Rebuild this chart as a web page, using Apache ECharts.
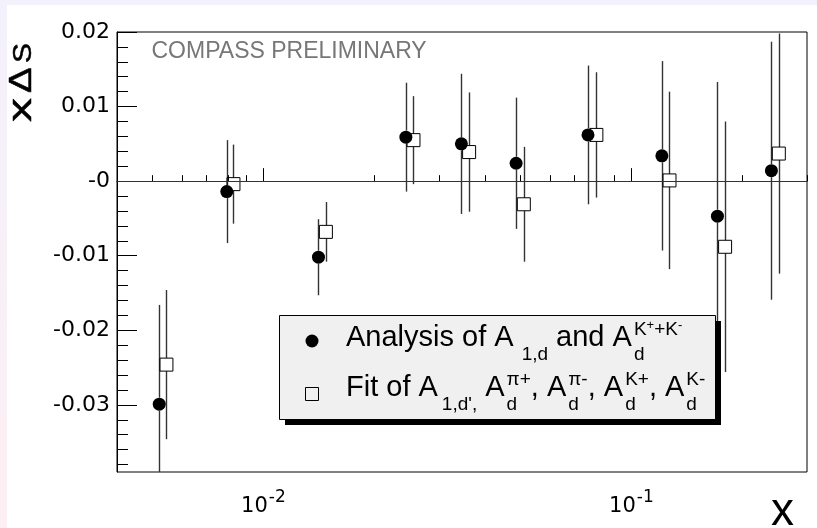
<!DOCTYPE html>
<html><head><meta charset="utf-8">
<script src="https://cdn.jsdelivr.net/npm/echarts@6/dist/echarts.min.js"></script>
<style>html,body{margin:0;padding:0;background:#fff;}#c{width:817px;height:528px;}</style>
</head><body><div id="c"></div>
<script>
// ---- data ----
const xCircle = [0.00521, 0.00795, 0.01411, 0.02438, 0.03451, 0.0486, 0.0762, 0.1210, 0.1713, 0.2401];
const yCircle = [-0.0299, -0.0014, -0.0102, 0.0059, 0.0050, 0.0024, 0.0062, 0.0034, -0.0047, 0.0014];
const eCircle = [0.0133, 0.0069, 0.0051, 0.0073, 0.0094, 0.0088, 0.0093, 0.0127, 0.0180, 0.0173];

const xSquare = [0.00545, 0.00829, 0.01478, 0.02557, 0.03622, 0.0510, 0.0803, 0.1269, 0.1797, 0.2515];
const ySquare = [-0.0246, -0.0004, -0.0068, 0.0055, 0.0039, -0.0031, 0.0062, 0.0001, -0.0088, 0.0037];
const eSquare = [0.0100, 0.0053, 0.0040, 0.0059, 0.0080, 0.0077, 0.0084, 0.0119, 0.0168, 0.0161];

const yMajorTicks = [-0.03, -0.02, -0.01, 0, 0.01, 0.02];
const yMajorLabels = ['-0.03', '-0.02', '-0.01', '-0', '0.01', '0.02'];
const yMinorTicks = [-0.038, -0.036, -0.034, -0.032, -0.028, -0.026, -0.024, -0.022,
  -0.018, -0.016, -0.014, -0.012, -0.008, -0.006, -0.004, -0.002,
  0.002, 0.004, 0.006, 0.008, 0.012, 0.014, 0.016, 0.018];
const xMajorTicks = [0.01, 0.1];
const xMajorExp = ['-2', '-1'];
const xMinorTicks = [0.005, 0.006, 0.007, 0.008, 0.009, 0.02, 0.03, 0.04, 0.05, 0.06, 0.07, 0.08, 0.09, 0.2, 0.3];

const FONT = '"Liberation Sans", Arial, Helvetica, sans-serif';
const WIDE = '"DejaVu Sans", "Liberation Sans", sans-serif';
const chart = echarts.init(document.getElementById('c'), null, {renderer: 'canvas'});

function errRender(halfGap) {
  return function (params, api) {
    const x = api.value(0), y = api.value(1), e = api.value(2);
    const c = api.coord([x, y]);
    const top = api.coord([x, y + e]);
    const bot = api.coord([x, y - e]);
    const cs = params.coordSys;
    const t = Math.max(top[1], cs.y), b = Math.min(bot[1], cs.y + cs.height);
    const px = Math.round(c[0]) + 0.5;
    const st = {stroke: '#333', lineWidth: 1.4};
    const ch = [];
    if (c[1] - halfGap > t) ch.push({type: 'line', shape: {x1: px, y1: t, x2: px, y2: c[1] - halfGap}, style: st});
    if (c[1] + halfGap < b) ch.push({type: 'line', shape: {x1: px, y1: c[1] + halfGap, x2: px, y2: b}, style: st});
    return {type: 'group', children: ch};
  };
}

// ---- legend layout helpers ----
const mctx = document.createElement('canvas').getContext('2d');
function tw(t, s) { mctx.font = s + 'px ' + FONT; return mctx.measureText(t).width; }
function txt(x, base, t, s, color) {
  return {type: 'text', x: x, y: base - 0.3465 * s, z: 120, silent: true,
    style: {text: t, font: s + 'px ' + FONT, fill: color || '#000', textAlign: 'left', textVerticalAlign: 'middle'}};
}
function layoutRow(items, x0, base) {
  const els = []; let x = x0;
  items.forEach(function (it) {
    if (it.gap) { x += it.gap; return; }
    if (it.stack) {
      let sx = x;
      it.sup.forEach(function (p) { els.push(txt(sx, base + p[2], p[0], p[1])); sx += tw(p[0], p[1]); });
      els.push(txt(x, base + it.sub[2], it.sub[0], it.sub[1]));
      x = Math.max(sx, x + tw(it.sub[0], it.sub[1]));
      return;
    }
    els.push(txt(x, base + (it.dy || 0), it.t, it.s));
    x += tw(it.t, it.s);
  });
  return els;
}
function stk(sup) { return {stack: true, sup: [[sup, 19, -12]], sub: ['d', 19, 13]}; }
const row1 = [{t: 'Analysis of A', s: 29}, {gap: 8}, {t: '1,d', s: 19, dy: 13}, {t: ' and A', s: 29}, {gap: 2},
  {stack: true, sup: [['K', 19, -12], ['+', 13, -18], ['+K', 19, -12], ['-', 13, -18]], sub: ['d', 19, 13]}];
const row2 = [{t: 'Fit of A', s: 29}, {gap: 4}, {t: "1,d',", s: 19, dy: 13}, {t: ' A', s: 29}, {gap: 2}, stk('\u03c0+'),
  {t: ', A', s: 29}, {gap: 2}, stk('\u03c0-'), {t: ', A', s: 29}, {gap: 2}, stk('K+'), {t: ', A', s: 29}, {gap: 2}, stk('K-')];

function rotLetter(t, s, sx, y0) {
  return {type: 'text', z: 50, silent: true, x: 33 - 0.3465 * s, y: y0, rotation: Math.PI / 2, scaleX: sx,
    style: {text: t, font: s + 'px ' + FONT, fill: '#000', stroke: '#000', lineWidth: 0.5,
      textAlign: 'left', textVerticalAlign: 'middle'}};
}

const graphics = [
  {type: 'rect', z: -10, silent: true, shape: {x: 0, y: 0, width: 817, height: 5}, style: {fill: '#f3f1fc'}},
  {type: 'rect', z: -10, silent: true, shape: {x: 0, y: 0, width: 7, height: 528},
    style: {fill: new echarts.graphic.LinearGradient(0, 0, 0, 1, [{offset: 0, color: '#f3f1fc'}, {offset: 1, color: '#fdeff3'}])}},
  {type: 'rect', z: 110, silent: true, shape: {x: 285, y: 321, width: 436, height: 104}, style: {fill: '#000'}},
  {type: 'rect', z: 111, silent: true, shape: {x: 279.5, y: 315.5, width: 436, height: 104}, style: {fill: '#f0f0f0', stroke: '#000', lineWidth: 1}},
  {type: 'circle', z: 120, silent: true, shape: {cx: 312, cy: 341, r: 6.5}, style: {fill: '#000'}},
  {type: 'rect', z: 120, silent: true, shape: {x: 305.5, y: 387.5, width: 13, height: 13}, style: {fill: 'none', stroke: '#000', lineWidth: 1}},
  {type: 'text', z: 50, silent: true, x: 151.5, y: 52,
    style: {text: 'COMPASS PRELIMINARY', font: '23px ' + FONT, fill: '#777', textAlign: 'left', textVerticalAlign: 'middle'}},
  {type: 'text', z: 50, silent: true, x: 782.5, y: 512,
    style: {text: 'x', font: '46px ' + FONT, fill: '#000', textAlign: 'center', textVerticalAlign: 'middle'}},
  rotLetter('x', 33, 1.45, 122),
  rotLetter('\u0394', 32, 1.2, 93),
  rotLetter('S', 26, 1.15, 63)
].concat(layoutRow(row1, 346, 348)).concat(layoutRow(row2, 346, 398));

const option = {
  animation: false,
  backgroundColor: '#fff',
  grid: {left: 117, right: 10, top: 32, bottom: 56, show: true, borderColor: '#000', borderWidth: 1,
    backgroundColor: 'transparent', containLabel: false, outerBoundsMode: 'none'},
  xAxis: [
    {type: 'log', logBase: 10, min: 0.004, max: 0.3, position: 'bottom',
      axisLine: {show: true, lineStyle: {color: '#000', width: 1}},
      axisTick: {show: true, inside: true, length: 13, customValues: xMajorTicks, lineStyle: {color: '#000'}},
      axisLabel: {show: true, customValues: xMajorTicks, margin: 24,
        formatter: function (v) {
          const i = xMajorTicks.findIndex(function (t) { return Math.abs(t - v) / t < 1e-6; });
          return i >= 0 ? '{b|10}{s|' + xMajorExp[i] + '}' : '';
        },
        rich: {
          b: {fontSize: 21, fontFamily: WIDE, color: '#000', lineHeight: 21},
          s: {fontSize: 17, fontFamily: WIDE, color: '#000', lineHeight: 17, padding: [0, 0, 17, 1]}
        }},
      splitLine: {show: false}, minorTick: {show: false}},
    {type: 'log', logBase: 10, min: 0.004, max: 0.3, position: 'bottom',
      axisLine: {show: false},
      axisTick: {show: true, inside: true, length: 6, customValues: xMinorTicks, lineStyle: {color: '#000'}},
      axisLabel: {show: false}, splitLine: {show: false}}
  ],
  yAxis: [
    {type: 'value', min: -0.039, max: 0.02, position: 'left',
      axisLine: {show: true, lineStyle: {color: '#000', width: 1}},
      axisTick: {show: true, inside: true, length: 20, customValues: yMajorTicks, lineStyle: {color: '#000'}},
      axisLabel: {show: true, customValues: yMajorTicks, margin: 7, fontSize: 22, fontFamily: WIDE, color: '#000',
        formatter: function (v) {
          const i = yMajorTicks.findIndex(function (t) { return Math.abs(t - v) < 1e-9; });
          return i >= 0 ? yMajorLabels[i] : '';
        }},
      splitLine: {show: false}},
    {type: 'value', min: -0.039, max: 0.02, position: 'left',
      axisLine: {show: false},
      axisTick: {show: true, inside: true, length: 11, customValues: yMinorTicks, lineStyle: {color: '#000'}},
      axisLabel: {show: false}, splitLine: {show: false}}
  ],
  series: [
    {type: 'custom', name: 'errC', xAxisIndex: 0, yAxisIndex: 0, renderItem: errRender(6.5), z: 3,
      encode: {x: 0, y: 1}, data: xCircle.map(function (x, i) { return [x, yCircle[i], eCircle[i]]; }), silent: true},
    {type: 'custom', name: 'errS', xAxisIndex: 0, yAxisIndex: 0, renderItem: errRender(6.5), z: 3,
      encode: {x: 0, y: 1}, data: xSquare.map(function (x, i) { return [x, ySquare[i], eSquare[i]]; }), silent: true},
    {type: 'scatter', name: 'Analysis', xAxisIndex: 0, yAxisIndex: 0, symbol: 'circle', symbolSize: 13, z: 4,
      itemStyle: {color: '#000', opacity: 1}, silent: true,
      data: xCircle.map(function (x, i) { return [x, yCircle[i]]; }),
      markLine: {silent: true, symbol: ['none', 'none'], label: {show: false}, animation: false,
        lineStyle: {color: '#333', width: 1, type: 'solid'}, data: [{yAxis: 0}]}},
    {type: 'scatter', name: 'Fit', xAxisIndex: 0, yAxisIndex: 0, symbol: 'rect', symbolSize: 13, z: 4,
      itemStyle: {color: 'rgba(0,0,0,0)', borderColor: '#000', borderWidth: 1, opacity: 1}, silent: true,
      data: xSquare.map(function (x, i) { return [x, ySquare[i]]; })}
  ],
  graphic: graphics
};
chart.setOption(option);
</script></body></html>
